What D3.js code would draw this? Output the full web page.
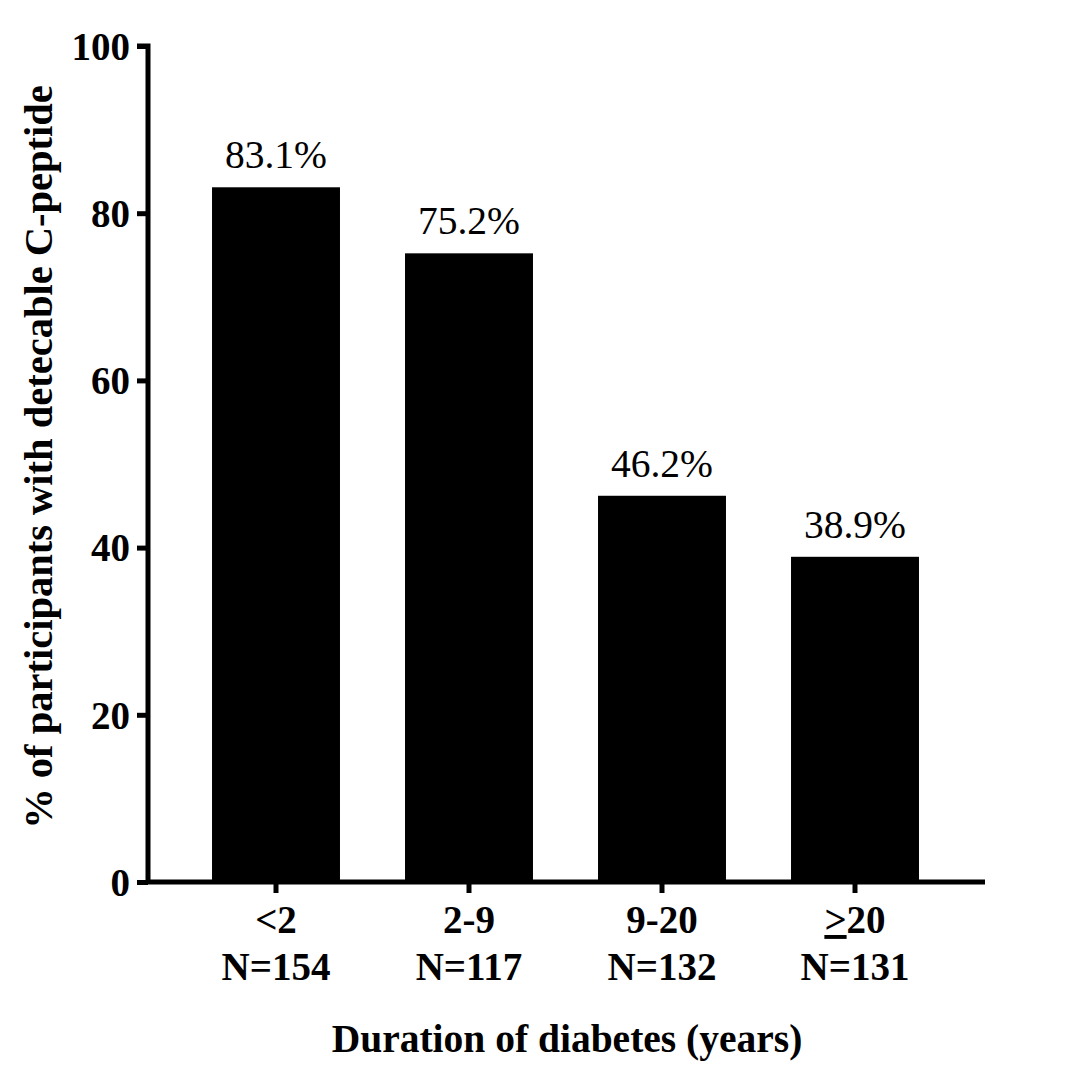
<!DOCTYPE html>
<html><head><meta charset="utf-8">
<script src="https://cdn.jsdelivr.net/npm/d3@7"></script>
<style>body{margin:0;background:#fff}svg{display:block}text{font-family:"Liberation Serif","Times New Roman",serif !important;fill:#000}</style>
</head><body>
<script>
const categories = ["<2", "2-9", "9-20", "≥20"];
const nLabels = ["N=154", "N=117", "N=132", "N=131"];
const values = [83.1, 75.2, 46.2, 38.9];
const valueLabels = ["83.1%", "75.2%", "46.2%", "38.9%"];
const yTicks = [0, 20, 40, 60, 80, 100];

const W = 1080, H = 1074;
const svg = d3.select("body").append("svg").attr("width", W).attr("height", H)
  .attr("font-family", "Liberation Serif");

const x = d3.scaleBand().domain(categories).range([179.5, 951.5]).paddingInner(0.337).paddingOuter(0.1685);
const y = d3.scaleLinear().domain([0, 100]).range([882, 46]);

// bars
svg.selectAll("rect.bar").data(values).enter().append("rect")
  .attr("x", (d, i) => x(categories[i]))
  .attr("y", d => y(d))
  .attr("width", x.bandwidth())
  .attr("height", d => y(0) - y(d))
  .attr("fill", "#000");

// value labels
svg.selectAll("text.val").data(values).enter().append("text")
  .attr("x", (d, i) => x(categories[i]) + x.bandwidth() / 2)
  .attr("y", d => y(d) - 19)
  .attr("text-anchor", "middle")
  .style("font-size", "39.5px")
  .text((d, i) => valueLabels[i]);

// y axis
const yAxis = svg.append("g").attr("transform", "translate(148,0)")
  .call(d3.axisLeft(y).tickValues(yTicks).tickSize(11).tickPadding(7).tickFormat(d3.format("d")));
yAxis.attr("font-family", null);
yAxis.select(".domain").attr("stroke-width", 5).attr("d", `M-11,${y(100)}H0V${y(0)}`);
yAxis.selectAll(".tick line").attr("stroke-width", 5);
yAxis.selectAll(".tick text").style("font-size", "39px").style("font-weight", "bold").attr("dy", "0.34em");

// x axis
const xAxis = svg.append("g").attr("transform", `translate(0,${y(0)})`)
  .call(d3.axisBottom(x).tickSize(11).tickFormat(""));
xAxis.select(".domain").attr("stroke-width", 5).attr("d", "M146,0H985");
xAxis.selectAll(".tick line").attr("stroke-width", 5);

// category labels
categories.forEach((c, i) => {
  const cx = x(c) + x.bandwidth() / 2;
  const t = svg.append("text").attr("x", cx).attr("y", 933).attr("text-anchor", "middle")
    .style("font-size", "39px").style("font-weight", "bold");
  if (c.startsWith("≥")) {
    t.append("tspan").style("text-decoration", "underline").text(">");
    t.append("tspan").text(c.slice(1));
  } else t.text(c);
  svg.append("text").attr("x", cx).attr("y", 980).attr("text-anchor", "middle")
    .style("font-size", "39px").style("font-weight", "bold").text(nLabels[i]);
});

// axis titles
svg.append("text").attr("x", 567).attr("y", 1052).attr("text-anchor", "middle")
  .style("font-size", "39.5px").style("font-weight", "bold").text("Duration of diabetes (years)");
svg.append("text").attr("transform", "translate(52,457) rotate(-90)").attr("text-anchor", "middle")
  .style("font-size", "40.5px").style("font-weight", "bold").text("% of participants with detecable C-peptide");
</script>
</body></html>
